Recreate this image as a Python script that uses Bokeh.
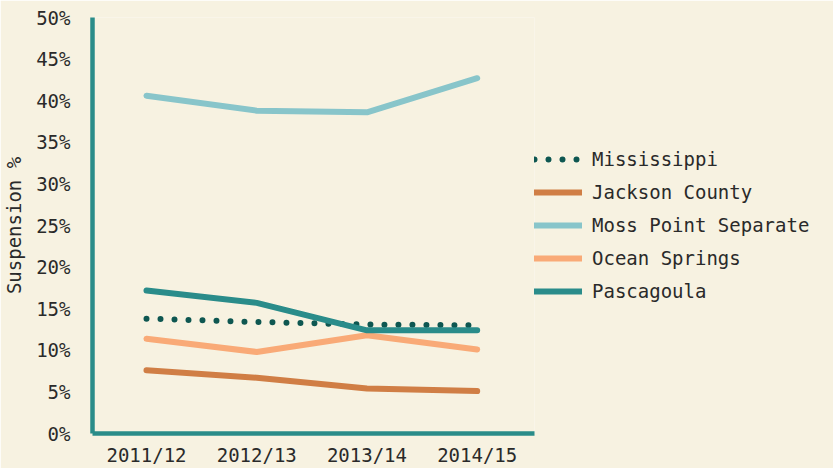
from bokeh.plotting import figure
from bokeh.models import Legend, LegendItem, FixedTicker
from bokeh.embed import file_html
from bokeh.resources import INLINE

years = ["2011/12", "2012/13", "2013/14", "2014/15"]
mississippi = [13.8, 13.4, 13.1, 13.0]
jackson = [7.6, 6.7, 5.4, 5.1]
moss_point = [40.6, 38.8, 38.6, 42.7]
ocean_springs = [11.4, 9.8, 11.8, 10.1]
pascagoula = [17.2, 15.7, 12.4, 12.4]
y_ticks = [0, 5, 10, 15, 20, 25, 30, 35, 40, 45, 50]

BG = "#F7F2E1"
TEAL = "#2A8C89"
FONT = "DejaVu Sans Mono"
FS = "19px"
TXT = "#2a2a2a"

xs = list(range(len(years)))

p = figure(frame_width=442, frame_height=416, x_range=(-0.49, 3.52), y_range=(0, 50),
           output_backend="svg", toolbar_location=None,
           min_border_left=90, min_border_top=17, min_border_bottom=0,
           min_border_right=0)
p.background_fill_color = BG
p.border_fill_color = BG
p.outline_line_color = None
p.grid.visible = False

for ax in (p.xaxis[0], p.yaxis[0]):
    ax.axis_line_color = TEAL
    ax.axis_line_width = 4.5
    ax.major_tick_line_color = None
    ax.minor_tick_line_color = None
    ax.major_tick_out = 0
    ax.major_tick_in = 0
    ax.minor_tick_out = 0
    ax.minor_tick_in = 0
    ax.major_label_text_font = FONT
    ax.major_label_text_font_size = FS
    ax.major_label_text_color = TXT

p.xaxis[0].ticker = FixedTicker(ticks=xs)
p.xaxis[0].major_label_overrides = {i: y for i, y in enumerate(years)}
p.xaxis[0].major_label_standoff = 10
p.yaxis[0].ticker = FixedTicker(ticks=y_ticks)
p.yaxis[0].major_label_overrides = {t: f"{t}%" for t in y_ticks}
p.yaxis[0].major_label_standoff = 22
p.yaxis[0].axis_label = "Suspension %"
p.yaxis[0].axis_label_text_font = FONT
p.yaxis[0].axis_label_text_font_size = FS
p.yaxis[0].axis_label_text_font_style = "normal"
p.yaxis[0].axis_label_text_color = TXT
p.yaxis[0].axis_label_standoff = 8

series = [
    ("Mississippi", mississippi, "#0E5751", "0 14"),
    ("Jackson County", jackson, "#D07E45", "solid"),
    ("Moss Point Separate", moss_point, "#88C5CA", "solid"),
    ("Ocean Springs", ocean_springs, "#F9AA77", "solid"),
    ("Pascagoula", pascagoula, "#2A8C8A", "solid"),
]

items = []
for name, vals, color, dash in series:
    r = p.line(xs, vals, line_color=color, line_width=6, line_cap="round",
               line_join="round", line_dash=dash)
    items.append(LegendItem(label=name, renderers=[r]))

legend = Legend(items=items, location="left", orientation="vertical")
legend.background_fill_alpha = 0
legend.border_line_color = None
legend.label_text_font = FONT
legend.label_text_font_size = FS
legend.label_text_color = TXT
legend.glyph_width = 48
legend.glyph_height = 20
legend.label_height = 20
legend.spacing = 11
legend.label_standoff = 10
legend.padding = 6
legend.margin = 0
p.add_layout(legend, "right")

open("out.html", "w").write(file_html(p, INLINE))
